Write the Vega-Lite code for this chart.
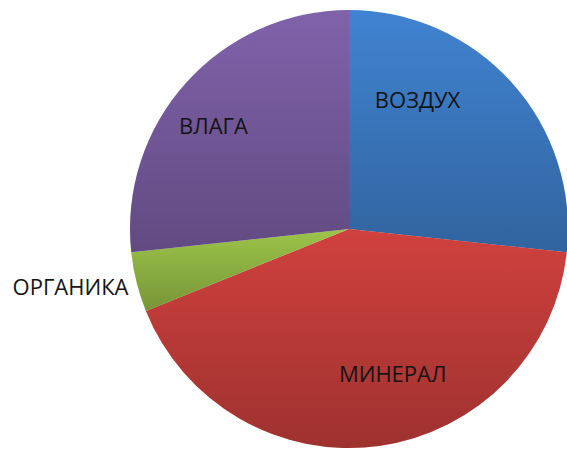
{
  "$schema": "https://vega.github.io/schema/vega-lite/v6.json",
  "width": 438,
  "height": 438,
  "autosize": {"type": "none"},
  "padding": {"left": 130, "top": 10, "right": 0, "bottom": 0},
  "background": "white",
  "view": {"stroke": null},
  "data": {
    "values": [
      {"part": "ВОЗДУХ", "share": 26.7, "rank": 1},
      {"part": "МИНЕРАЛ", "share": 42.2, "rank": 2},
      {"part": "ОРГАНИКА", "share": 4.4, "rank": 3},
      {"part": "ВЛАГА", "share": 26.7, "rank": 4}
    ]
  },
  "encoding": {
    "theta": {"field": "share", "type": "quantitative", "stack": true},
    "order": {"field": "rank", "type": "quantitative", "sort": "ascending"}
  },
  "layer": [
    {
      "mark": {"type": "arc", "outerRadius": 219},
      "encoding": {
        "color": {
          "field": "part",
          "type": "nominal",
          "scale": {
            "domain": ["ВОЗДУХ", "МИНЕРАЛ", "ОРГАНИКА", "ВЛАГА"],
            "range": ["#4083d1", "#d0413e", "#9cc449", "#8062aa"]
          },
          "legend": null
        }
      }
    },
    {
      "mark": {
        "type": "arc",
        "outerRadius": 219,
        "color": {
          "gradient": "linear",
          "x1": 0, "y1": 0, "x2": 0, "y2": 1,
          "stops": [
            {"offset": 0, "color": "rgba(0,0,0,0)"},
            {"offset": 1, "color": "rgba(0,0,0,0.24)"}
          ]
        }
      }
    },
    {
      "mark": {
        "type": "text",
        "font": "Open Sans",
        "fontSize": 22,
        "color": "#141414",
        "align": "center",
        "baseline": "middle",
        "radius": {"expr": "datum.part === 'ОРГАНИКА' ? 285 : 150"},
        "dx": {"expr": "datum.part === 'ВОЗДУХ' ? -43 : datum.part === 'МИНЕРАЛ' ? 23 : datum.part === 'ВЛАГА' ? -24 : -2"},
        "dy": {"expr": "datum.part === 'ВОЗДУХ' ? -28 : datum.part === 'МИНЕРАЛ' ? -3 : datum.part === 'ВЛАГА' ? -2 : -10"}
      },
      "encoding": {
        "text": {"field": "part", "type": "nominal"}
      }
    }
  ]
}
